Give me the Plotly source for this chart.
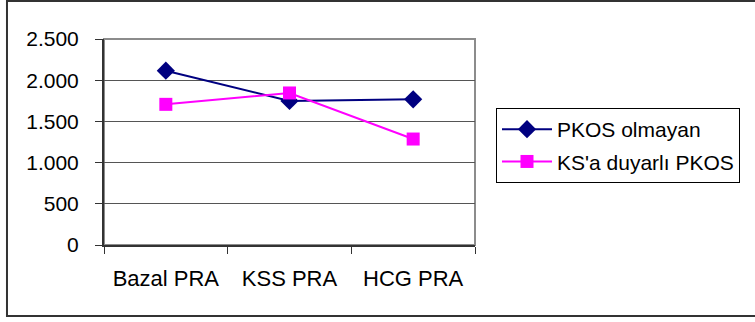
import plotly.graph_objects as go

categories = ["Bazal PRA", "KSS PRA", "HCG PRA"]
pkos_olmayan = [2115, 1748, 1768]
ks_duyarli = [1707, 1845, 1286]
y_ticks = [0, 500, 1000, 1500, 2000, 2500]

FONT = "Liberation Sans, Arial, sans-serif"

fig = go.Figure()
fig.add_trace(go.Scatter(
    x=categories, y=pkos_olmayan, name="PKOS olmayan", mode="lines+markers",
    line=dict(color="#000080", width=2),
    marker=dict(symbol="diamond", size=14, color="#000080"),
    legendgroup="a"))
fig.add_trace(go.Scatter(
    x=categories, y=ks_duyarli, name="KS'a duyarlı PKOS", mode="lines+markers",
    line=dict(color="#FF00FF", width=2),
    marker=dict(symbol="square", size=13, color="#FF00FF"),
    legendgroup="b"))

# plot area frame (gray) and outer chart border
fig.add_shape(type="rect", xref="x domain", yref="y domain", x0=0, x1=1, y0=0, y1=1,
              line=dict(color="#8c8c8c", width=2), layer="below")
fig.add_shape(type="rect", xref="paper", yref="paper", x0=-0.2615, x1=1.762, y0=-0.3447, y1=1.184,
              line=dict(color="#333333", width=2))

fig.update_layout(
    width=755, height=322,
    margin=dict(l=104, r=280, t=39, b=77),
    paper_bgcolor="white", plot_bgcolor="white",
    separators=",.",
    font=dict(family=FONT, size=22, color="black"),
    showlegend=True,
    legend=dict(
        x=1.0566, y=0.665, xanchor="left", yanchor="top",
        bordercolor="black", borderwidth=1, bgcolor="white",
        font=dict(size=21), tracegroupgap=2, traceorder="grouped",
        itemwidth=50),
    xaxis=dict(
        type="category", tickson="boundaries", ticks="outside", ticklen=7,
        tickcolor="#333", showline=True, linecolor="#333", linewidth=2,
        showgrid=False, ticklabelstandoff=13, tickfont=dict(size=22),
        range=[-0.5, 2.5]),
    yaxis=dict(
        range=[0, 2500], tickvals=y_ticks, tickformat=",d", ticks="outside", ticklen=7,
        tickcolor="#333", showline=True, linecolor="#333", linewidth=2,
        showgrid=True, gridcolor="#555", gridwidth=1, zeroline=False,
        ticklabelstandoff=12, tickfont=dict(size=21)),
)

fig.write_html("out.html", config={"displayModeBar": False},
               post_script="document.body.style.margin='0';")
